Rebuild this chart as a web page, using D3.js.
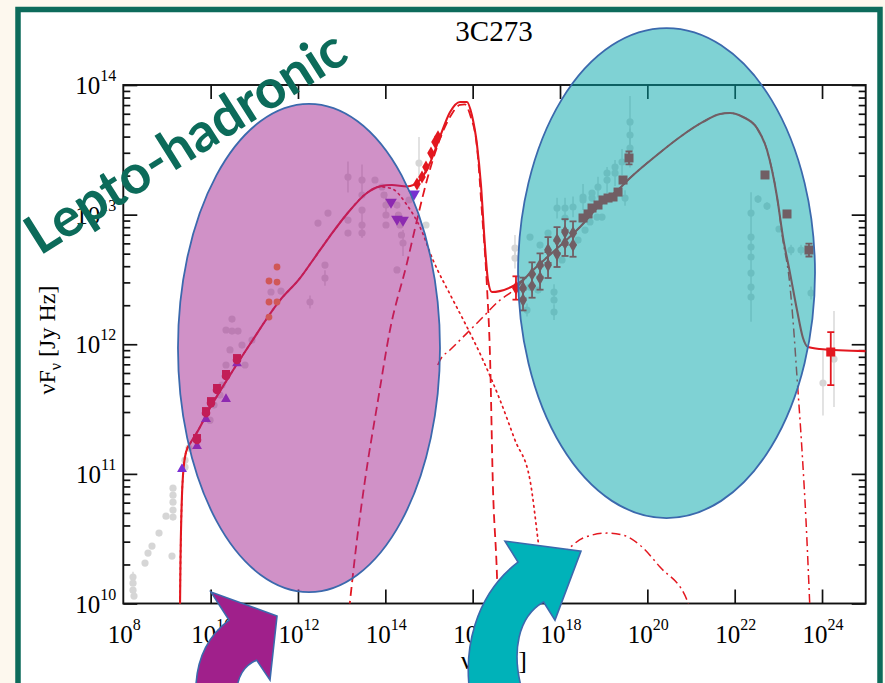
<!DOCTYPE html>
<html><head><meta charset="utf-8">
<script src="https://cdn.jsdelivr.net/npm/d3@7"></script>
<style>html,body{margin:0;padding:0;background:#fdf8ee;overflow:hidden}svg{display:block}</style>
</head><body>
<svg id="c" width="885" height="683"></svg>
<script>
// ---- tick labels (log10 exponents) ----
const xTickExps = [8, 10, 12, 14, 16, 18, 20, 22, 24];
const yTickExps = [10, 11, 12, 13, 14];

// ---- model curves: [log10 nu (Hz), log10 nuFnu (Jy Hz)] ----
const totalModel = [
  [9.298, 9.95], [9.31, 10.34], [9.333, 10.72], [9.367, 10.99], [9.436, 11.168], [9.55, 11.245],
  [9.688, 11.32], [9.985, 11.508], [10.443, 11.762], [10.90, 12.0], [11.59, 12.34], [12.046, 12.51],
  [12.344, 12.65], [12.733, 12.835], [13.12, 13.005], [13.578, 13.167], [13.876, 13.218], [14.15, 13.228],
  [14.496, 13.217], [14.794, 13.267], [15.023, 13.398], [15.25, 13.599], [15.48, 13.79], [15.71, 13.869],
  [15.87, 13.869], [15.98, 13.77], [16.10, 13.537], [16.19, 13.228], [16.28, 12.765], [16.35, 12.495],
  [16.44, 12.403], [16.62, 12.41], [16.97, 12.457], [17.15, 12.495], [17.313, 12.549], [18.069, 12.781],
  [18.458, 12.904], [18.847, 13.051], [19.374, 13.205], [19.603, 13.282], [20.221, 13.46], [20.748, 13.599],
  [21.274, 13.715], [21.664, 13.776], [21.893, 13.784], [22.19, 13.753], [22.51, 13.668], [22.74, 13.498],
  [22.97, 13.136], [23.106, 12.827], [23.267, 12.549], [23.427, 12.264], [23.564, 12.048], [23.679, 11.978],
  [23.95, 11.963], [25.0, 11.947]
];
const synchrotron = [
  [9.298, 9.95], [9.31, 10.34], [9.333, 10.72], [9.367, 10.99], [9.436, 11.168], [9.55, 11.245],
  [9.688, 11.32], [9.985, 11.508], [10.443, 11.762], [10.90, 12.0], [11.59, 12.34], [12.046, 12.51],
  [12.344, 12.65], [12.733, 12.835], [13.12, 13.005], [13.578, 13.167], [13.876, 13.215], [14.15, 13.2],
  [14.496, 13.074], [14.794, 12.904], [15.092, 12.65], [15.55, 12.341], [15.87, 12.133], [16.237, 11.878],
  [16.626, 11.57], [16.97, 11.26], [17.313, 10.952], [17.496, 10.489], [17.657, 10.026], [17.7, 9.9]
];
const thermalBump = [
  [13.17, 9.95], [13.35, 10.49], [13.535, 10.952], [13.833, 11.57], [14.107, 12.11], [14.496, 12.627],
  [14.725, 12.958], [14.954, 13.267], [15.183, 13.52], [15.48, 13.753], [15.71, 13.846], [15.82, 13.85],
  [15.95, 13.76], [16.10, 13.52], [16.214, 13.012], [16.328, 12.441], [16.40, 11.878], [16.46, 10.952],
  [16.56, 10.18], [16.58, 9.95]
];
const hadronic = [
  [15.2, 11.84], [15.253, 11.878], [15.48, 11.955], [15.87, 12.086], [16.237, 12.21], [16.626, 12.341],
  [16.855, 12.395], [16.97, 12.426], [17.313, 12.549], [18.069, 12.781], [18.458, 12.904], [18.847, 13.051],
  [19.374, 13.205], [19.603, 13.282], [20.221, 13.46], [20.748, 13.599], [21.274, 13.715], [21.664, 13.776],
  [21.893, 13.784], [22.19, 13.753], [22.51, 13.668], [22.74, 13.498], [22.97, 13.136], [23.106, 12.80],
  [23.25, 12.5], [23.335, 12.187], [23.427, 11.747], [23.541, 11.184], [23.633, 10.64], [23.724, 9.95]
];
const cascade = [
  [17.54, 10.14], [17.71, 10.27], [18.16, 10.412], [18.527, 10.505], [19.076, 10.543], [19.443, 10.528],
  [19.832, 10.45], [20.29, 10.281], [20.908, 10.026], [20.98, 9.95]
];

// ---- archival data: [log nu, log nuFnu, half error (dex)] ----
const archival = [
  [8.222,10.204,0.04],[8.222,10.157,0],[8.222,10.103,0],[8.245,10.057,0],[8.497,10.312,0],[8.566,10.389,0],
  [8.657,10.443,0],[8.818,10.543,0],[8.978,10.674,0],[9.138,10.89,0],[9.138,10.836,0],[9.138,10.782,0],
  [9.138,10.721,0],[9.138,10.667,0],[9.115,10.366,0],[9.413,11.106,0.03],[9.413,11.052,0],[9.504,11.199,0],
  [9.985,11.414,0],[10.077,11.531,0],[10.214,11.608,0],[10.26,11.685,0],[10.352,11.84,0],[10.443,11.956,0],
  [10.489,12.194,0],[10.352,12.11,0],[10.489,12.102,0],[10.627,12.102,0],[10.718,11.994,0],[10.787,11.84,0],
  [10.947,12.032,0],[11.382,12.403,0],[11.611,12.41,0],[12.275,12.326,0.05],[12.618,12.611,0],[12.618,12.511,0.06],
  [12.458,12.935,0],[12.687,13.012,0],[13.145,13.29,0.12],[13.145,12.958,0],[13.145,12.858,0],[13.466,13.267,0.12],
  [13.466,13.151,0],[13.466,13.035,0],[13.466,12.92,0.1],[13.466,12.858,0],[13.763,13.267,0],[13.924,13.213,0],
  [13.97,13.151,0],[14.015,13.074,0.1],[14.015,12.997,0],[14.015,12.92,0],[14.267,13.074,0],[14.3,12.997,0],
  [14.336,12.92,0],[14.37,12.843,0],[14.405,12.781,0.1],[14.267,12.573,0],[14.542,13.113,0],[14.771,13.398,0.2],
  [14.931,12.92,0],
  [16.969,12.742,0.1],[16.969,12.665,0.08],[17.313,12.827,0],[17.543,12.765,0],[17.726,12.858,0],[17.932,13.051,0.08],
  [18.115,12.974,0],[18.115,13.051,0.08],[18.298,13.059,0.08],[18.527,13.113,0],[18.527,13.136,0.1],[18.733,13.128,0],
  [18.733,13.167,0],[18.87,13.213,0.08],[19.077,13.321,0],[19.077,13.267,0.1],[19.26,13.367,0],[19.26,13.321,0.1],
  [19.42,13.406,0.1],[19.603,13.715,0.2],[19.603,13.614,0],[19.603,13.514,0.15],[19.489,13.128,0.06],[18.413,12.804,0],
  [18.573,12.881,0],[18.687,12.943,0],[18.848,12.981,0],[18.962,12.981,0],[17.863,12.403,0.06],[17.863,12.341,0],
  [17.863,12.248,0.06],[17.496,12.418,0],[18.047,12.65,0],[17.313,12.441,0],[17.244,12.264,0.05],
  [22.374,13.012,0],[22.374,12.827,0],[22.374,12.75,0],[22.374,12.673,0.5],[22.374,12.549,0],[22.374,12.441,0],
  [22.374,12.364,0],[22.534,13.12,0.03],[22.74,13.066,0.03],[23.015,12.889,0],[23.29,12.727,0.04],[23.519,12.727,0.04],
  [23.748,12.395,0.05],[24.022,11.701,0.25],[24.274,11.886,0.37]
];

// ---- simultaneous data ----
const radioDots = [[9.688,11.261],[9.894,11.469],[10.008,11.546],[10.146,11.647],[10.352,11.755],[10.604,11.878]];
const radioTriangles = [[9.344,11.045],[9.688,11.222],[9.894,11.43],[10.352,11.585],[10.604,11.86]];
const submmDots = [[11.52,12.596],[11.336,12.488],[11.52,12.48],[11.336,12.326],[11.52,12.326],[11.336,12.21]];
const irLimits = [[14.13,13.097],[14.267,12.966],[14.405,12.958],[14.657,13.159]];
const uvDots = [[14.725,13.236],[14.84,13.29],[14.931,13.367],[15.046,13.475],[15.137,13.56],[15.206,13.6]];
// [log nu, log nuFnu, lower err, upper err]
const xrayPoints = [
  [16.992,12.434,0.09,0.09],[17.153,12.434,0.08,0.08],[17.153,12.341,0.08,0.08],[17.36,12.542,0.09,0.09],
  [17.36,12.449,0.09,0.09],[17.543,12.611,0.09,0.09],[17.543,12.511,0.09,0.09],[17.726,12.727,0.1,0.1],
  [17.726,12.611,0.1,0.1],[17.932,12.804,0.1,0.1],[17.932,12.696,0.1,0.1],[18.115,12.866,0.1,0.1],
  [18.115,12.781,0.1,0.1],[18.298,12.858,0.09,0.09],[18.298,12.765,0.09,0.09]
];
const hardSquares = [
  [18.527,12.974,0,0],[18.642,13.005,0,0],[18.733,13.051,0,0],[18.87,13.074,0,0],[18.985,13.113,0,0],
  [19.1,13.128,0,0],[19.214,13.136,0,0],[19.329,13.174,0,0],[19.443,13.267,0,0],[19.58,13.437,0.05,0.05],
  [22.694,13.306,0,0],[23.198,13.005,0,0],[23.701,12.727,0.05,0.05],[24.2,11.94,0.255,0.154]
];

// ---- annotation shapes, in data units ----
const blobs = [
  {cx: 12.252, cy: 11.971, rx: 3.0, ry: 1.883, fill: "#a1238f"},
  {cx: 20.439, cy: 12.549, rx: 3.4, ry: 1.89, fill: "#00a5aa"}
];
const purpleArrow = [[9.665,9.255],[9.619,9.525],[9.871,9.733],[10.42,9.872],[10.008,10.088],[11.52,9.903],
  [11.359,9.409],[11.052,9.563],[10.787,9.525],[10.581,9.448],[10.581,9.255]];
const tealArrow = [[15.962,9.255],[15.756,9.64],[16.054,10.065],[17.038,10.319],[16.74,10.481],[18.48,10.404],
  [17.885,9.872],[17.625,10.011],[17.084,9.91],[16.81,9.64],[17.2,9.255]];

// ================= drawing =================
const W = 885, H = 683;
const svg = d3.select("#c");
const P = v => Math.pow(10, v);
const x = d3.scaleLog().domain([1e8, 1e25]).range([123.3, 865.7]);
const y = d3.scaleLog().domain([1e10, 1e14]).range([603.5, 85]);
const X = d => x(P(d[0])), Y = d => y(P(d[1]));
const [x0, x1] = x.range(), [y0, y1] = y.range();
const serif = "'Liberation Serif','Times New Roman',serif";
const red = "#e3171f";

svg.append("rect").attr("width", W).attr("height", H).attr("fill", "#fdf8ee");
svg.append("rect").attr("x", 18).attr("y", 9.5).attr("width", 862).attr("height", 800)
  .attr("fill", "#fff").attr("stroke", "#0d6b5b").attr("stroke-width", 5.5);

svg.append("defs").append("clipPath").attr("id", "plot")
  .append("rect").attr("x", x0).attr("y", y1).attr("width", x1 - x0).attr("height", y0 - y1);

// title
svg.append("text").attr("x", 494).attr("y", 41).attr("text-anchor", "middle")
  .attr("font-family", serif).attr("font-size", 29).text("3C273");

// axes
const axG = svg.append("g").attr("class", "axes");
const xMajor = xTickExps.slice(1).map(P);
const yMajor = yTickExps.map(P);
const yMinor = [];
yTickExps.slice(0, -1).forEach(e => { for (let k = 2; k <= 9; k++) yMinor.push(k * P(e)); });
function styleAxis(g) { g.select(".domain").remove(); g.selectAll("line").attr("stroke", "#111").attr("stroke-width", 1.7); }
axG.append("g").attr("transform", `translate(0,${y0})`)
  .call(d3.axisBottom(x).tickValues(xMajor).tickSizeInner(-14).tickSizeOuter(0).tickFormat("")).call(styleAxis);
axG.append("g").attr("transform", `translate(0,${y1})`)
  .call(d3.axisTop(x).tickValues(xMajor).tickSizeInner(-14).tickSizeOuter(0).tickFormat("")).call(styleAxis);
axG.append("g").attr("transform", `translate(${x0},0)`)
  .call(d3.axisLeft(y).tickValues(yMajor).tickSizeInner(-14).tickSizeOuter(0).tickFormat("")).call(styleAxis);
axG.append("g").attr("transform", `translate(${x0},0)`)
  .call(d3.axisLeft(y).tickValues(yMinor).tickSizeInner(-7).tickSizeOuter(0).tickFormat("")).call(styleAxis);
axG.append("g").attr("transform", `translate(${x1},0)`)
  .call(d3.axisRight(y).tickValues(yMajor).tickSizeInner(-14).tickSizeOuter(0).tickFormat("")).call(styleAxis);
axG.append("g").attr("transform", `translate(${x1},0)`)
  .call(d3.axisRight(y).tickValues(yMinor).tickSizeInner(-7).tickSizeOuter(0).tickFormat("")).call(styleAxis);
axG.append("rect").attr("x", x0).attr("y", y1).attr("width", x1 - x0).attr("height", y0 - y1)
  .attr("fill", "none").attr("stroke", "#111").attr("stroke-width", 1.9);

function powerLabel(sel) {
  sel.append("tspan").attr("font-size", 25).text("10");
  sel.append("tspan").attr("font-size", 16).attr("dy", -13).text(d => d);
}
axG.append("g").selectAll("text").data(xTickExps).join("text")
  .attr("x", d => x(P(d)) + 1).attr("y", 643).attr("text-anchor", "middle")
  .attr("font-family", serif).call(powerLabel);
axG.append("g").selectAll("text").data(yTickExps).join("text")
  .attr("x", x0 - 7).attr("y", d => y(P(d)) + 9).attr("text-anchor", "end")
  .attr("font-family", serif).call(powerLabel);

// axis titles
const yl = svg.append("text").attr("transform", "translate(55,340) rotate(-90)")
  .attr("text-anchor", "middle").attr("font-family", serif).attr("font-size", 24);
yl.append("tspan").text("\u03bdF");
yl.append("tspan").attr("font-size", 16).attr("dy", 6).text("\u03bd");
yl.append("tspan").attr("dy", -6).text(" [Jy Hz]");
svg.append("text").attr("x", 527).attr("y", 669).attr("text-anchor", "end")
  .attr("font-family", serif).attr("font-size", 26).text("\u03bd [Hz]");

// data + model layer
const plot = svg.append("g").attr("clip-path", "url(#plot)");
const grey = "#d6d6d6";
plot.append("g").selectAll("line").data(archival.filter(d => d[2] > 0)).join("line")
  .attr("x1", X).attr("x2", X)
  .attr("y1", d => y(P(d[1] + d[2]))).attr("y2", d => y(P(d[1] - d[2])))
  .attr("stroke", grey).attr("stroke-width", 1.4);
plot.append("g").selectAll("circle").data(archival).join("circle")
  .attr("cx", X).attr("cy", Y).attr("r", 3.6).attr("fill", grey);

const line = d3.line().x(X).y(Y).curve(d3.curveMonotoneX);
const curves = [
  {data: synchrotron, dash: "1.6,4.2", w: 1.7},
  {data: thermalBump, dash: "9,5", w: 1.8},
  {data: hadronic, dash: "9,4,2,4", w: 1.5},
  {data: cascade, dash: "9,4,2,4", w: 1.5},
  {data: totalModel, dash: null, w: 2.1}
];
plot.append("g").selectAll("path").data(curves).join("path")
  .attr("d", c => line(c.data)).attr("fill", "none").attr("stroke", red)
  .attr("stroke-width", c => c.w).attr("stroke-dasharray", c => c.dash)
  .attr("stroke-linecap", c => c.dash && c.dash.startsWith("1.6") ? "round" : "butt");

// simultaneous measurements
function errBars(g, data, col) {
  const withErr = data.filter(d => d[2] > 0 || d[3] > 0);
  g.append("g").selectAll("line").data(withErr).join("line")
    .attr("x1", X).attr("x2", X)
    .attr("y1", d => y(P(d[1] + d[3]))).attr("y2", d => y(P(d[1] - d[2])))
    .attr("stroke", col).attr("stroke-width", 1.8);
  ["lo", "hi"].forEach(k => {
    g.append("g").selectAll("line").data(withErr).join("line")
      .attr("x1", d => X(d) - 3.5).attr("x2", d => X(d) + 3.5)
      .attr("y1", d => y(P(k === "lo" ? d[1] - d[2] : d[1] + d[3])))
      .attr("y2", d => y(P(k === "lo" ? d[1] - d[2] : d[1] + d[3])))
      .attr("stroke", col).attr("stroke-width", 1.8);
  });
}
const marks = plot.append("g");
const sym = (type, size) => d3.symbol().type(type).size(size);
marks.append("g").selectAll("path").data(radioTriangles).join("path")
  .attr("transform", d => `translate(${X(d)},${Y(d) + 1})`).attr("d", sym(d3.symbolTriangle, 42)()).attr("fill", "#7b2fd2");
marks.append("g").selectAll("circle").data(radioDots).join("circle")
  .attr("cx", X).attr("cy", Y).attr("r", 4.3).attr("fill", red);
marks.append("g").selectAll("rect").data(radioDots).join("rect")
  .attr("x", d => X(d) - 4).attr("y", d => Y(d) - 6).attr("width", 8).attr("height", 6).attr("fill", red);
marks.append("g").selectAll("circle").data(submmDots).join("circle")
  .attr("cx", X).attr("cy", Y).attr("r", 3.4).attr("fill", "#ff8a1e");
marks.append("g").selectAll("path").data(irLimits).join("path")
  .attr("transform", d => `translate(${X(d)},${Y(d)}) rotate(180)`).attr("d", sym(d3.symbolTriangle, 60)()).attr("fill", "#7630d0");
marks.append("g").selectAll("path").data(uvDots).join("path")
  .attr("transform", d => `translate(${X(d)},${Y(d)})`).attr("d", sym(d3.symbolDiamond, 50)()).attr("fill", red);
errBars(marks, xrayPoints, red);
marks.append("g").selectAll("path").data(xrayPoints).join("path")
  .attr("transform", d => `translate(${X(d)},${Y(d)})`).attr("d", sym(d3.symbolDiamond, 55)()).attr("fill", red);
errBars(marks, hardSquares, red);
marks.append("g").selectAll("rect").data(hardSquares).join("rect")
  .attr("x", d => X(d) - 4.5).attr("y", d => Y(d) - 4.5).attr("width", 9).attr("height", 9).attr("fill", red);

// highlighted regions
svg.append("g").selectAll("ellipse").data(blobs).join("ellipse")
  .attr("cx", d => x(P(d.cx))).attr("cy", d => y(P(d.cy)))
  .attr("rx", d => x(P(d.cx + d.rx)) - x(P(d.cx)))
  .attr("ry", d => y(P(d.cy - d.ry)) - y(P(d.cy)))
  .attr("fill", d => d.fill).attr("fill-opacity", 0.5)
  .attr("stroke", "#3b69ad").attr("stroke-width", 1.8);

// curved arrows
function arrowPath(p) {
  const q = p.map(d => [X(d), Y(d)]);
  return `M${q[0]}C${q[1]} ${q[2]} ${q[3]}L${q[4]}L${q[5]}L${q[6]}L${q[7]}C${q[8]} ${q[9]} ${q[10]}Z`;
}
svg.append("path").attr("d", arrowPath(purpleArrow)).attr("fill", "#a0208b")
  .attr("stroke", "#3b69ad").attr("stroke-width", 1.6).attr("stroke-linejoin", "miter");
svg.append("path").attr("d", arrowPath(tealArrow)).attr("fill", "#00b2b9")
  .attr("stroke", "#3b69ad").attr("stroke-width", 1.6).attr("stroke-linejoin", "miter");

// slide caption
const cap = svg.append("text").attr("transform", "translate(40,256) rotate(-32.3)")
  .attr("font-family", "'Lato','Open Sans',sans-serif").attr("font-weight", 700)
  .attr("font-size", 48).attr("fill", "#0c6b5a").text("Lepto-hadronic");
const len = cap.node().getComputedTextLength();
cap.attr("font-size", 48 * 368 / len);
</script>
</body></html>
